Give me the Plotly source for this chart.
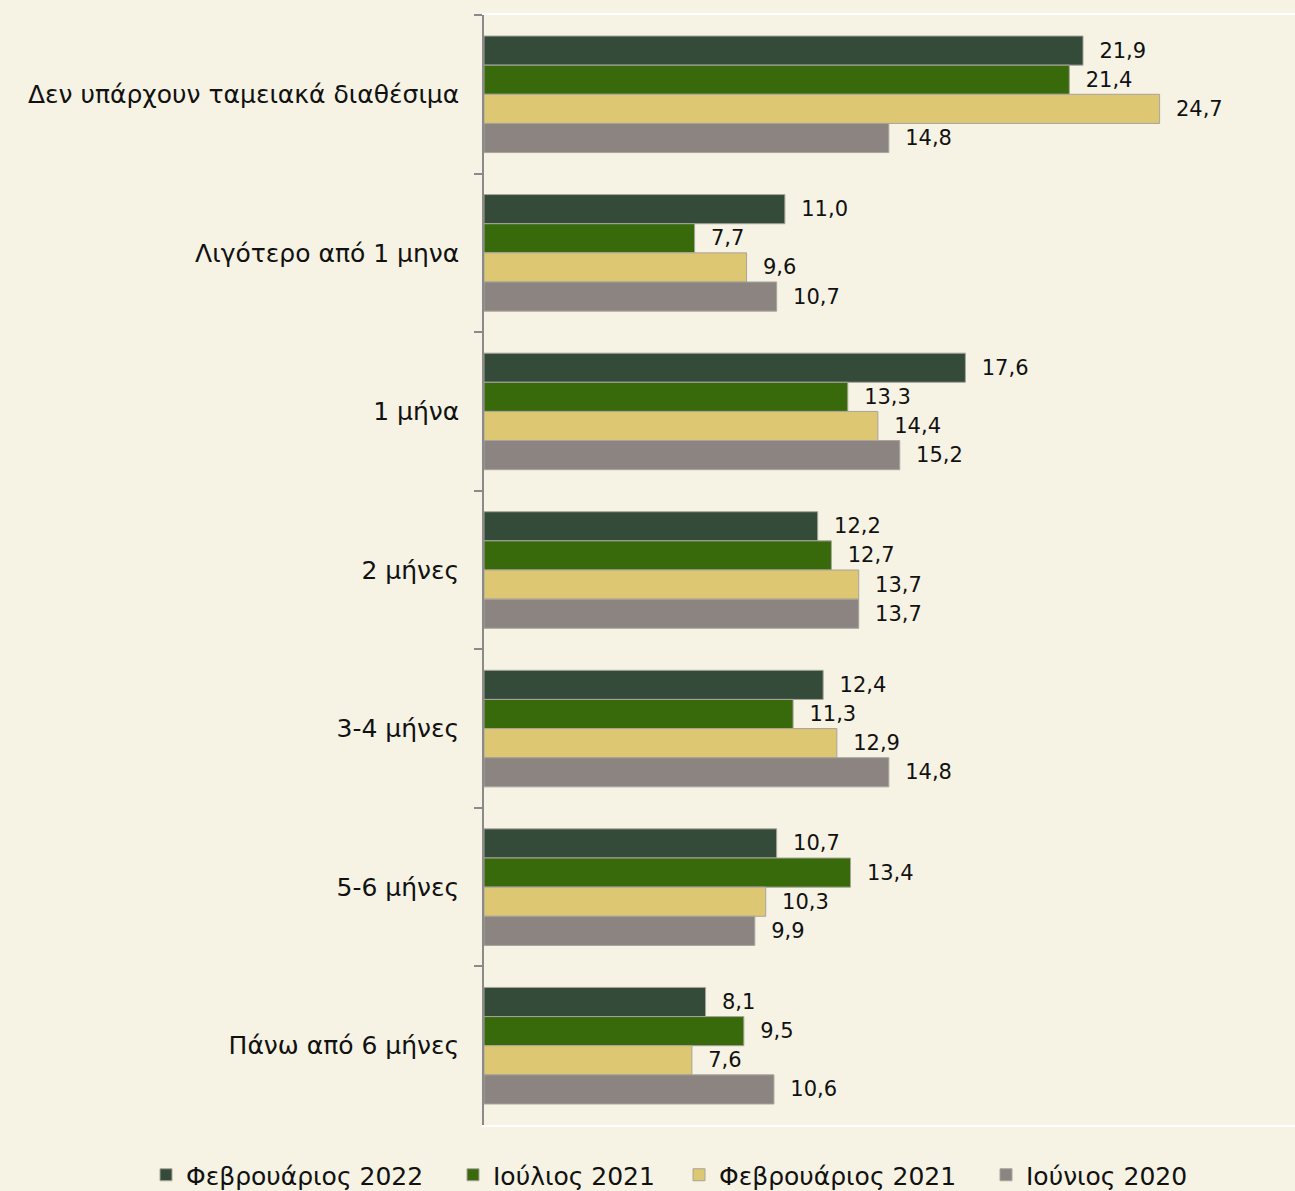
import plotly.graph_objects as go

categories = [
    "Δεν υπάρχουν ταμειακά διαθέσιμα",
    "Λιγότερο από 1 μηνα",
    "1 μήνα",
    "2 μήνες",
    "3-4 μήνες",
    "5-6 μήνες",
    "Πάνω από 6 μήνες",
]
feb_2022 = [21.9, 11.0, 17.6, 12.2, 12.4, 10.7, 8.1]
jul_2021 = [21.4, 7.7, 13.3, 12.7, 11.3, 13.4, 9.5]
feb_2021 = [24.7, 9.6, 14.4, 13.7, 12.9, 10.3, 7.6]
jun_2020 = [14.8, 10.7, 15.2, 13.7, 14.8, 9.9, 10.6]

series_names = ["Φεβρουάριος 2022", "Ιούλιος 2021", "Φεβρουάριος 2021", "Ιούνιος 2020"]
series_values = [feb_2022, jul_2021, feb_2021, jun_2020]
series_colors = ["#354B3A", "#386A0B", "#DDC772", "#8C8480"]
legend_ids = ["legend", "legend2", "legend3", "legend4"]
legend_x_px = [146, 453, 679, 986]

FONT = "DejaVu Sans"
W, H = 1295, 1191
fig = go.Figure()
for name, vals, col, lid in zip(series_names, series_values, series_colors, legend_ids):
    fig.add_trace(go.Bar(
        name=name, y=categories, x=vals, orientation="h",
        marker=dict(color=col, line=dict(color="#A8A49C", width=1)),
        texttemplate="\u00a0\u00a0%{x:.1f}", textposition="outside",
        textfont=dict(family=FONT, size=21, color="#111111"),
        cliponaxis=False, legend=lid,
    ))

legend_style = dict(orientation="h", xref="container", yref="container",
                    xanchor="left", yanchor="middle", y=(H - 1175) / H,
                    font=dict(family=FONT, size=25, color="#111111"),
                    itemwidth=30, bgcolor="rgba(0,0,0,0)")
layout_legends = {lid: dict(legend_style, x=px / W) for lid, px in zip(legend_ids, legend_x_px)}

fig.update_layout(
    width=W, height=H,
    barmode="group", bargap=0.265, bargroupgap=0,
    separators=",.",
    paper_bgcolor="#F6F3E4", plot_bgcolor="#F6F3E4",
    margin=dict(l=484, r=0, t=15, b=66, autoexpand=False),
    font=dict(family=FONT, size=25, color="#111111"),
    showlegend=True,
    **layout_legends,
)
fig.update_xaxes(range=[0, 29.65], showgrid=False, zeroline=False,
                 showticklabels=False, showline=True, linecolor="#FFFFFF",
                 linewidth=2, mirror=True, ticks="")
fig.update_yaxes(autorange="reversed", showgrid=False, showline=True,
                 linecolor="#8A8A8A", linewidth=1.5, ticks="outside",
                 tickson="boundaries", ticklen=8, tickcolor="#8A8A8A",
                 tickwidth=1.5, ticklabelstandoff=18,
                 tickfont=dict(family=FONT, size=25, color="#111111"))

fig.write_html("out.html", config={"displayModeBar": False},
               post_script="document.body.style.margin='0';")
